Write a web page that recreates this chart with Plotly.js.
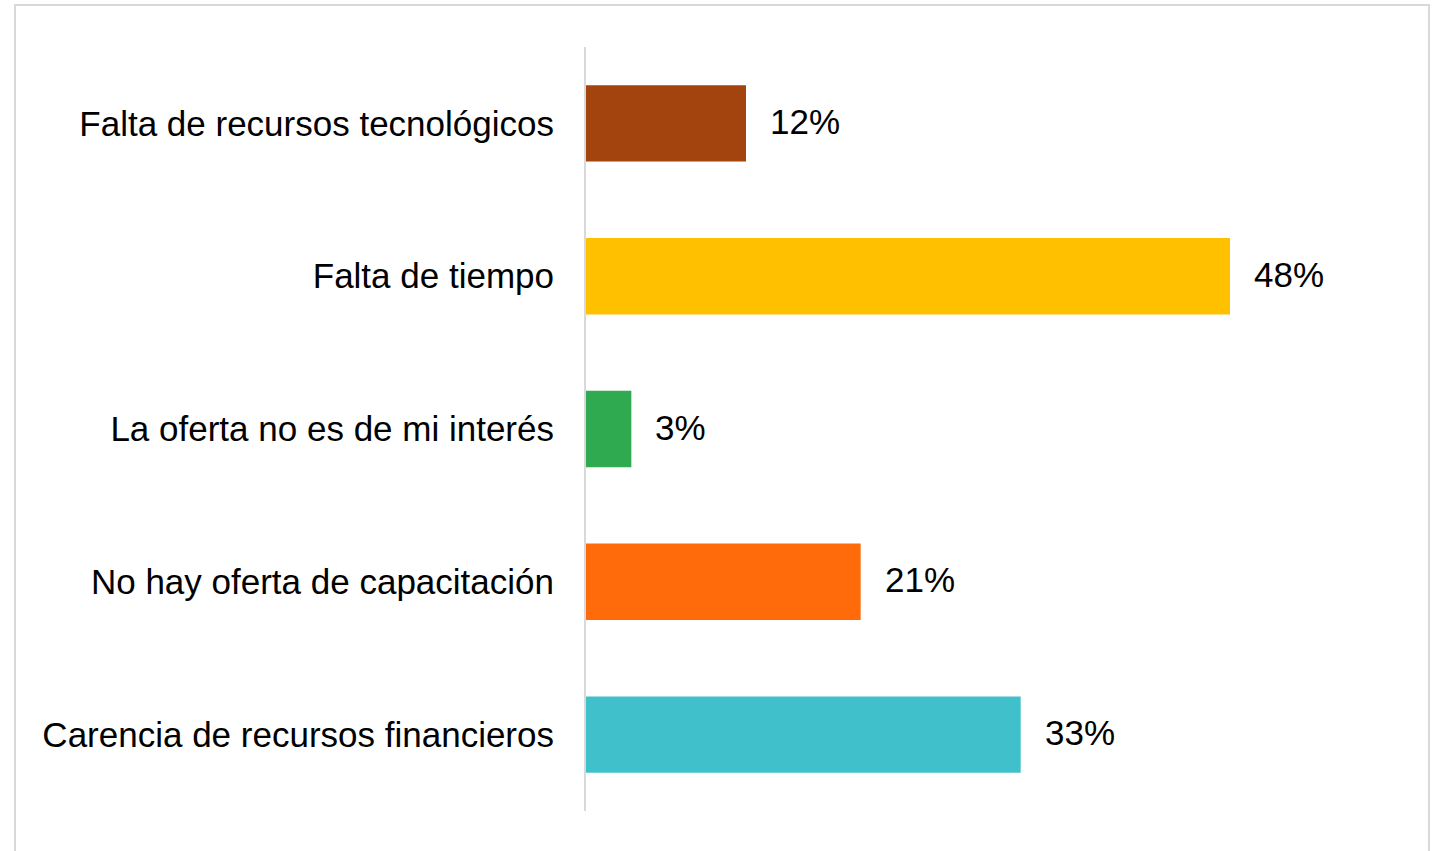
<!DOCTYPE html>
<html>
<head>
<meta charset="utf-8">
<script src="https://cdn.plot.ly/plotly-3.0.1.min.js"></script>
<style>
html,body{margin:0;padding:0;background:#fff;}
#chart{width:1438px;height:851px;}
</style>
</head>
<body>
<div id="chart"></div>
<script>
// Data (top to bottom)
var categories = [
  "Falta de recursos tecnológicos",
  "Falta de tiempo",
  "La oferta no es de mi interés",
  "No hay oferta de capacitación",
  "Carencia de recursos financieros"
];
var values = [12.0, 48.3, 3.4, 20.6, 32.6];
var valueLabels = ["12%", "48%", "3%", "21%", "33%"];
var barColors = ["#A3430E", "#FFC000", "#2FAA50", "#FF6A0A", "#40C0CB"];

var trace = {
  type: "bar",
  orientation: "h",
  y: categories,
  x: values,
  marker: { color: barColors, line: { width: 0 } },
  hoverinfo: "skip"
};

var FONT = "Liberation Sans, Arial, sans-serif";

var annotations = categories.map(function (c, i) {
  return {
    x: values[i], y: c, xref: "x", yref: "y",
    text: valueLabels[i], showarrow: false,
    xanchor: "left", yanchor: "middle", xshift: 22, yshift: 2,
    font: { family: FONT, size: 35, color: "#000" }
  };
});

var L = 586, R = 52, T = 47, B = 40, W = 1438, H = 851;
var pw = W - L - R, ph = H - T - B;
function px(x) { return (x - L) / pw; }
function py(y) { return (H - B - y) / ph; }

var layout = {
  width: W, height: H,
  margin: { l: L, r: R, t: T, b: B, pad: 0 },
  paper_bgcolor: "#fff", plot_bgcolor: "#fff",
  showlegend: false,
  bargap: 0.5,
  font: { family: FONT, size: 35, color: "#000" },
  xaxis: {
    range: [0, 60], showgrid: false, zeroline: false, showticklabels: false,
    ticks: "", showline: false, fixedrange: true
  },
  yaxis: {
    autorange: "reversed", showgrid: false, zeroline: false,
    showline: true, linecolor: "#d9d9d9", linewidth: 2, layer: "above traces",
    ticks: "outside", ticklen: 23, tickcolor: "rgba(0,0,0,0)",
    tickfont: { family: FONT, size: 35, color: "#000" },
    fixedrange: true
  },
  annotations: annotations,
  shapes: [{
    type: "rect", xref: "paper", yref: "paper",
    x0: px(15), x1: px(1429), y0: py(870), y1: py(5),
    line: { color: "#d9d9d9", width: 2 }, fillcolor: "rgba(0,0,0,0)", layer: "below"
  }]
};

Plotly.newPlot("chart", [trace], layout, { displayModeBar: false, staticPlot: true });
</script>
</body>
</html>
